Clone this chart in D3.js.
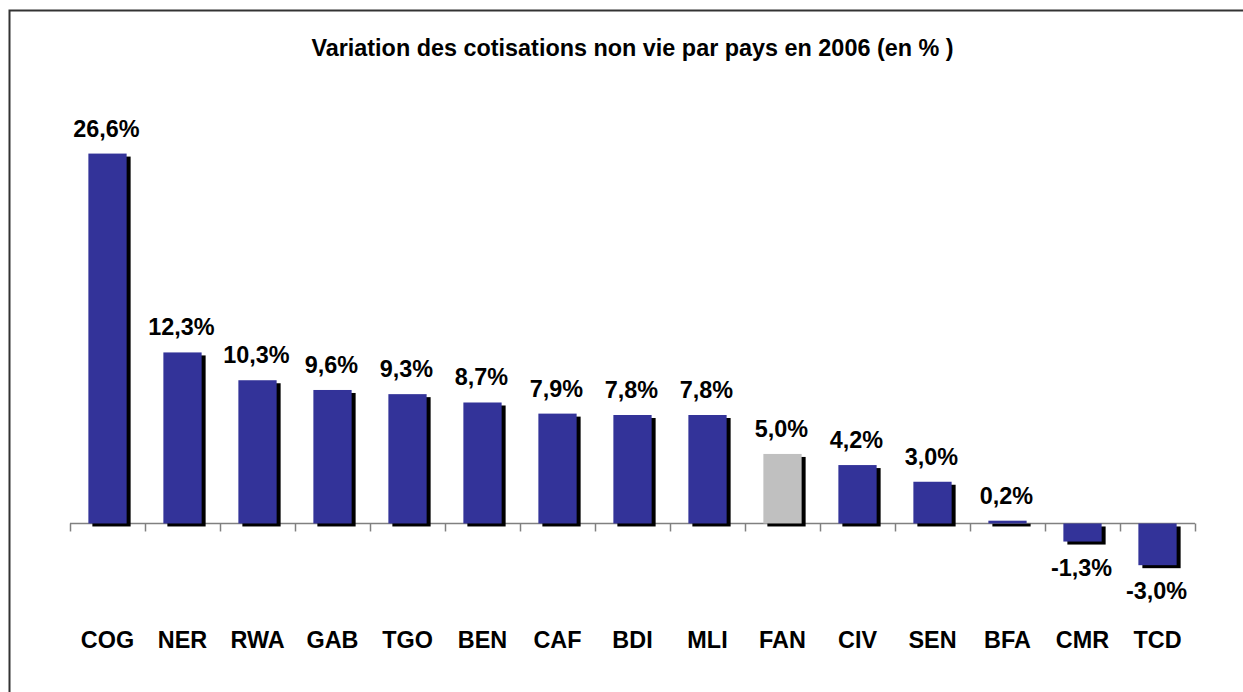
<!DOCTYPE html>
<html>
<head>
<meta charset="utf-8">
<script src="https://cdn.jsdelivr.net/npm/d3@7"></script>
<style>
	body { margin: 0; background: #fff; overflow: hidden; }
	svg { display: block; font-family: Arial, "Liberation Sans", sans-serif; }
</style>
</head>
<body>
<script>
/* Variation des cotisations non vie par pays en 2006 */
var countries = ["COG", "NER", "RWA", "GAB", "TGO", "BEN", "CAF", "BDI", "MLI", "FAN", "CIV", "SEN", "BFA", "CMR", "TCD"];
var values = [26.6, 12.3, 10.3, 9.6, 9.3, 8.7, 7.9, 7.8, 7.8, 5.0, 4.2, 3.0, 0.2, -1.3, -3.0];
var highlighted = ["FAN"]; // the zone average, drawn in grey
var title = "Variation des cotisations non vie par pays en 2006 (en % )";

var fullWidth = 1243, fullHeight = 692;

var data = countries.map(function(c, i) {
	return {country: c, value: values[i]};
});

var svg = d3.select("body").append("svg")
	.attr("width", fullWidth)
	.attr("height", fullHeight);

// frame (only top and left edges show in the picture)
svg.append("path")
	.attr("d", "M9.5," + (fullHeight + 5) + "V10.5H" + (fullWidth + 5))
	.attr("fill", "none")
	.attr("stroke", "#333")
	.attr("stroke-width", 2);

var xScale = d3.scaleBand()
	.domain(countries)
	.range([70, 1195])
	.paddingInner(0.49)
	.paddingOuter(0.245);

var yScale = d3.scaleLinear()
	.domain([-5, 30])
	.range([593, 106.3]);

var y0 = yScale(0);
var step = xScale.step();

svg.append("text")
	.attr("x", (70 + 1195) / 2)
	.attr("y", 56)
	.attr("text-anchor", "middle")
	.style("font-size", "23.4px")
	.style("font-weight", "bold")
	.text(title);

// axis line and ticks between categories
svg.append("line")
	.attr("x1", 70)
	.attr("x2", 1195)
	.attr("y1", y0)
	.attr("y2", y0)
	.attr("stroke", "#808080")
	.attr("stroke-width", 1.5);

svg.selectAll(".tick")
	.data(d3.range(countries.length + 1))
	.enter().append("line")
		.attr("class", "tick")
		.attr("x1", function(i) { return Math.round(70 + i * step) + 0.5; })
		.attr("x2", function(i) { return Math.round(70 + i * step) + 0.5; })
		.attr("y1", y0)
		.attr("y2", y0 + 8)
		.attr("stroke", "#808080")
		.attr("stroke-width", 1.5);

// shadows
svg.selectAll(".shadow")
	.data(data)
	.enter().append("rect")
		.attr("class", "shadow")
		.attr("x", function(d) { return xScale(d.country) + 4; })
		.attr("y", function(d) { return Math.min(yScale(d.value), y0) + 3; })
		.attr("width", xScale.bandwidth())
		.attr("height", function(d) { return Math.abs(yScale(d.value) - y0); })
		.style("fill", "#000");

svg.selectAll(".bar")
	.data(data)
	.enter().append("rect")
		.attr("class", "bar")
		.attr("x", function(d) { return xScale(d.country); })
		.attr("y", function(d) { return Math.min(yScale(d.value), y0); })
		.attr("width", xScale.bandwidth())
		.attr("height", function(d) { return Math.abs(yScale(d.value) - y0); })
		.style("fill", function(d) {
			return highlighted.indexOf(d.country) >= 0 ? "#c0c0c0" : "#333399";
		});

// value labels
svg.selectAll(".value")
	.data(data)
	.enter().append("text")
		.attr("class", "value")
		.attr("x", function(d) { return xScale(d.country) + xScale.bandwidth() / 2 - 1; })
		.attr("y", function(d) {
			return d.value >= 0 ? yScale(d.value) - 17 : yScale(d.value) + 34;
		})
		.attr("text-anchor", "middle")
		.style("font-size", "23.4px")
		.style("font-weight", "bold")
		.text(function(d) { return d3.format(".1f")(d.value).replace(".", ",").replace("−", "-") + "%"; });

// category labels
svg.selectAll(".label")
	.data(countries)
	.enter().append("text")
		.attr("class", "label")
		.attr("x", function(c) { return xScale(c) + xScale.bandwidth() / 2; })
		.attr("y", 648)
		.attr("text-anchor", "middle")
		.style("font-size", "23.4px")
		.style("font-weight", "bold")
		.text(function(c) { return c; });
</script>
</body>
</html>
